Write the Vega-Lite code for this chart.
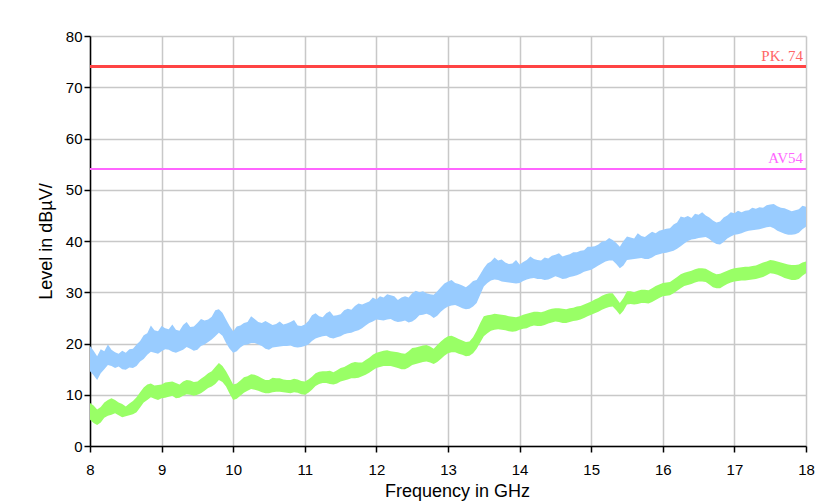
{
  "$schema": "https://vega.github.io/schema/vega-lite/v6.json",
  "width": 716,
  "height": 410,
  "autosize": {"type": "none"},
  "padding": {"left": 90, "top": 36, "right": 18, "bottom": 57},
  "background": "white",
  "config": {
    "view": {"stroke": null},
    "font": "Liberation Sans",
    "axis": {
      "gridColor": "#c8c8c8",
      "gridWidth": 1.5,
      "gridOpacity": 1,
      "domainColor": "#000000",
      "domainWidth": 1.5,
      "tickColor": "#000000",
      "tickWidth": 1.5,
      "tickSize": 6,
      "labelColor": "#000000",
      "labelFont": "Liberation Sans",
      "labelFontSize": 15,
      "titleFont": "Liberation Sans",
      "titleFontSize": 18,
      "titleFontWeight": "normal",
      "titleColor": "#000000"
    }
  },
  "data": {
    "values": [
      {"f": 8.0, "pl": 14.6, "ph": 19.5, "al": 5.1, "ah": 8.4},
      {"f": 8.1, "pl": 12.9, "ph": 17.5, "al": 4.1, "ah": 7.1},
      {"f": 8.2, "pl": 15.0, "ph": 18.5, "al": 5.5, "ah": 8.5},
      {"f": 8.3, "pl": 15.6, "ph": 18.8, "al": 6.1, "ah": 9.3},
      {"f": 8.4, "pl": 15.5, "ph": 18.0, "al": 6.0, "ah": 8.5},
      {"f": 8.5, "pl": 14.9, "ph": 18.2, "al": 5.8, "ah": 7.7},
      {"f": 8.6, "pl": 15.2, "ph": 19.0, "al": 6.2, "ah": 8.8},
      {"f": 8.7, "pl": 16.5, "ph": 20.5, "al": 7.5, "ah": 10.5},
      {"f": 8.8, "pl": 17.8, "ph": 22.0, "al": 9.0, "ah": 12.0},
      {"f": 8.9, "pl": 18.2, "ph": 22.6, "al": 9.2, "ah": 11.8},
      {"f": 9.0, "pl": 18.5, "ph": 23.4, "al": 9.3, "ah": 12.0},
      {"f": 9.1, "pl": 18.8, "ph": 22.8, "al": 9.6, "ah": 12.5},
      {"f": 9.2, "pl": 18.2, "ph": 22.7, "al": 9.3, "ah": 12.3},
      {"f": 9.3, "pl": 18.8, "ph": 23.6, "al": 9.8, "ah": 12.6},
      {"f": 9.4, "pl": 19.0, "ph": 23.2, "al": 10.0, "ah": 12.8},
      {"f": 9.5, "pl": 18.8, "ph": 24.0, "al": 10.0, "ah": 12.6},
      {"f": 9.6, "pl": 19.8, "ph": 24.5, "al": 10.8, "ah": 13.6},
      {"f": 9.7, "pl": 20.8, "ph": 25.2, "al": 11.6, "ah": 14.6},
      {"f": 9.8, "pl": 22.1, "ph": 26.7, "al": 12.9, "ah": 16.2},
      {"f": 9.9, "pl": 20.1, "ph": 24.7, "al": 11.6, "ah": 14.6},
      {"f": 10.0, "pl": 18.2, "ph": 22.4, "al": 9.0, "ah": 12.0},
      {"f": 10.1, "pl": 19.2, "ph": 23.5, "al": 9.8, "ah": 12.8},
      {"f": 10.2, "pl": 19.8, "ph": 24.2, "al": 10.8, "ah": 13.6},
      {"f": 10.3, "pl": 20.1, "ph": 24.8, "al": 11.0, "ah": 13.9},
      {"f": 10.4, "pl": 19.5, "ph": 24.0, "al": 10.5, "ah": 13.2},
      {"f": 10.5, "pl": 18.8, "ph": 24.0, "al": 10.3, "ah": 12.9},
      {"f": 10.6, "pl": 19.3, "ph": 23.8, "al": 10.6, "ah": 13.2},
      {"f": 10.7, "pl": 19.5, "ph": 23.7, "al": 10.5, "ah": 13.0},
      {"f": 10.8, "pl": 19.6, "ph": 24.2, "al": 10.3, "ah": 12.9},
      {"f": 10.9, "pl": 19.2, "ph": 23.5, "al": 10.4, "ah": 13.0},
      {"f": 11.0, "pl": 19.5, "ph": 23.7, "al": 10.0, "ah": 12.6},
      {"f": 11.1, "pl": 20.5, "ph": 25.5, "al": 11.0, "ah": 13.5},
      {"f": 11.2, "pl": 21.2, "ph": 25.3, "al": 12.1, "ah": 14.5},
      {"f": 11.3, "pl": 21.5, "ph": 25.9, "al": 12.3, "ah": 14.6},
      {"f": 11.4, "pl": 21.0, "ph": 25.4, "al": 12.0, "ah": 14.4},
      {"f": 11.5, "pl": 21.4, "ph": 25.7, "al": 12.6, "ah": 15.2},
      {"f": 11.6, "pl": 22.0, "ph": 26.8, "al": 13.0, "ah": 15.8},
      {"f": 11.7, "pl": 22.4, "ph": 27.3, "al": 13.2, "ah": 16.4},
      {"f": 11.8, "pl": 23.0, "ph": 27.6, "al": 13.6, "ah": 16.3},
      {"f": 11.9, "pl": 24.0, "ph": 28.2, "al": 14.3, "ah": 17.2},
      {"f": 12.0, "pl": 24.7, "ph": 28.6, "al": 15.2, "ah": 18.2},
      {"f": 12.1, "pl": 24.5, "ph": 29.0, "al": 15.6, "ah": 18.6},
      {"f": 12.2, "pl": 24.8, "ph": 29.4, "al": 15.6, "ah": 18.5},
      {"f": 12.3, "pl": 24.2, "ph": 28.5, "al": 15.2, "ah": 18.3},
      {"f": 12.4, "pl": 24.5, "ph": 29.2, "al": 15.0, "ah": 18.0},
      {"f": 12.5, "pl": 24.3, "ph": 29.8, "al": 15.8, "ah": 19.1},
      {"f": 12.6, "pl": 25.5, "ph": 30.0, "al": 16.2, "ah": 19.4},
      {"f": 12.7, "pl": 25.8, "ph": 29.8, "al": 16.5, "ah": 19.7},
      {"f": 12.8, "pl": 25.0, "ph": 29.5, "al": 16.0, "ah": 19.0},
      {"f": 12.9, "pl": 26.2, "ph": 31.0, "al": 17.0, "ah": 20.4},
      {"f": 13.0, "pl": 27.2, "ph": 32.1, "al": 18.1, "ah": 21.4},
      {"f": 13.1, "pl": 27.5, "ph": 31.8, "al": 18.3, "ah": 21.2},
      {"f": 13.2, "pl": 26.9, "ph": 31.3, "al": 17.8, "ah": 20.6},
      {"f": 13.3, "pl": 26.8, "ph": 31.5, "al": 17.6, "ah": 20.4},
      {"f": 13.4, "pl": 27.9, "ph": 32.4, "al": 19.0, "ah": 22.5},
      {"f": 13.5, "pl": 31.1, "ph": 34.7, "al": 21.4, "ah": 25.3},
      {"f": 13.6, "pl": 32.3, "ph": 36.0, "al": 22.5, "ah": 25.6},
      {"f": 13.7, "pl": 32.4, "ph": 36.2, "al": 22.8, "ah": 25.7},
      {"f": 13.8, "pl": 32.0, "ph": 35.8, "al": 22.6, "ah": 25.5},
      {"f": 13.9, "pl": 31.8, "ph": 35.6, "al": 22.3, "ah": 25.2},
      {"f": 14.0, "pl": 31.8, "ph": 35.4, "al": 22.7, "ah": 25.3},
      {"f": 14.1, "pl": 32.5, "ph": 36.3, "al": 23.0, "ah": 25.8},
      {"f": 14.2, "pl": 32.8, "ph": 36.5, "al": 23.5, "ah": 26.2},
      {"f": 14.3, "pl": 32.6, "ph": 36.2, "al": 23.4, "ah": 26.1},
      {"f": 14.4, "pl": 32.5, "ph": 36.6, "al": 23.9, "ah": 26.6},
      {"f": 14.5, "pl": 33.1, "ph": 37.3, "al": 24.3, "ah": 26.9},
      {"f": 14.6, "pl": 32.6, "ph": 37.0, "al": 24.0, "ah": 26.8},
      {"f": 14.7, "pl": 33.0, "ph": 37.4, "al": 24.2, "ah": 26.9},
      {"f": 14.8, "pl": 33.3, "ph": 37.8, "al": 24.5, "ah": 27.2},
      {"f": 14.9, "pl": 34.0, "ph": 38.2, "al": 25.0, "ah": 27.6},
      {"f": 15.0, "pl": 34.4, "ph": 38.9, "al": 25.6, "ah": 28.2},
      {"f": 15.1, "pl": 35.2, "ph": 39.3, "al": 26.2, "ah": 28.9},
      {"f": 15.2, "pl": 36.0, "ph": 40.0, "al": 26.9, "ah": 29.6},
      {"f": 15.3, "pl": 36.2, "ph": 40.2, "al": 27.2, "ah": 29.8},
      {"f": 15.4, "pl": 34.7, "ph": 38.9, "al": 25.6, "ah": 27.9},
      {"f": 15.5, "pl": 36.3, "ph": 40.9, "al": 27.6, "ah": 30.2},
      {"f": 15.6, "pl": 36.5, "ph": 40.5, "al": 27.6, "ah": 30.0},
      {"f": 15.7, "pl": 36.7, "ph": 41.0, "al": 27.9, "ah": 30.5},
      {"f": 15.8, "pl": 36.5, "ph": 41.3, "al": 27.8, "ah": 30.4},
      {"f": 15.9, "pl": 37.2, "ph": 41.5, "al": 28.5, "ah": 31.2},
      {"f": 16.0, "pl": 37.6, "ph": 42.2, "al": 29.2, "ah": 31.8},
      {"f": 16.1, "pl": 37.9, "ph": 42.5, "al": 29.4, "ah": 32.0},
      {"f": 16.2, "pl": 38.5, "ph": 43.6, "al": 30.3, "ah": 33.0},
      {"f": 16.3, "pl": 39.5, "ph": 44.6, "al": 31.2, "ah": 33.8},
      {"f": 16.4, "pl": 40.3, "ph": 44.5, "al": 31.6, "ah": 34.2},
      {"f": 16.5, "pl": 40.6, "ph": 45.1, "al": 32.1, "ah": 34.7},
      {"f": 16.6, "pl": 40.8, "ph": 45.0, "al": 32.0, "ah": 34.6},
      {"f": 16.7, "pl": 39.8, "ph": 44.0, "al": 31.0, "ah": 33.8},
      {"f": 16.8, "pl": 39.3, "ph": 43.8, "al": 30.8, "ah": 33.6},
      {"f": 16.9, "pl": 40.5, "ph": 45.0, "al": 31.6, "ah": 34.2},
      {"f": 17.0, "pl": 41.2, "ph": 45.4, "al": 32.1, "ah": 34.7},
      {"f": 17.1, "pl": 41.5, "ph": 45.6, "al": 32.3, "ah": 34.9},
      {"f": 17.2, "pl": 42.0, "ph": 46.0, "al": 32.4, "ah": 35.0},
      {"f": 17.3, "pl": 42.2, "ph": 46.3, "al": 32.6, "ah": 35.2},
      {"f": 17.4, "pl": 42.5, "ph": 46.5, "al": 33.0, "ah": 35.8},
      {"f": 17.5, "pl": 42.8, "ph": 47.1, "al": 33.7, "ah": 36.3},
      {"f": 17.6, "pl": 42.0, "ph": 46.8, "al": 33.4, "ah": 36.0},
      {"f": 17.7, "pl": 41.4, "ph": 46.4, "al": 32.8, "ah": 35.6},
      {"f": 17.8, "pl": 41.2, "ph": 45.8, "al": 32.4, "ah": 35.3},
      {"f": 17.9, "pl": 41.6, "ph": 46.2, "al": 32.6, "ah": 35.4},
      {"f": 18.0, "pl": 42.8, "ph": 46.7, "al": 33.7, "ah": 36.0},
      {"f": 8.05, "pl": 13.8, "ph": 18.6, "al": 4.5, "ah": 7.9},
      {"f": 8.15, "pl": 14.2, "ph": 18.9, "al": 4.6, "ah": 7.6},
      {"f": 8.25, "pl": 15.8, "ph": 19.8, "al": 5.9, "ah": 9.0},
      {"f": 8.35, "pl": 15.2, "ph": 18.3, "al": 6.4, "ah": 9.0},
      {"f": 8.45, "pl": 15.0, "ph": 18.6, "al": 5.6, "ah": 8.2},
      {"f": 8.55, "pl": 15.3, "ph": 18.9, "al": 6.0, "ah": 8.3},
      {"f": 8.65, "pl": 15.6, "ph": 19.8, "al": 6.6, "ah": 9.5},
      {"f": 8.75, "pl": 17.0, "ph": 21.6, "al": 8.5, "ah": 11.4},
      {"f": 8.85, "pl": 18.4, "ph": 23.5, "al": 9.5, "ah": 12.2},
      {"f": 8.95, "pl": 18.0, "ph": 22.4, "al": 9.0, "ah": 11.9},
      {"f": 9.05, "pl": 18.9, "ph": 23.0, "al": 9.4, "ah": 12.4},
      {"f": 9.15, "pl": 18.4, "ph": 23.7, "al": 9.8, "ah": 12.6},
      {"f": 9.25, "pl": 18.5, "ph": 22.5, "al": 9.4, "ah": 12.0},
      {"f": 9.35, "pl": 19.3, "ph": 24.2, "al": 10.1, "ah": 12.9},
      {"f": 9.45, "pl": 18.6, "ph": 23.3, "al": 9.8, "ah": 12.5},
      {"f": 9.55, "pl": 19.5, "ph": 24.8, "al": 10.3, "ah": 13.1},
      {"f": 9.65, "pl": 20.3, "ph": 24.7, "al": 11.3, "ah": 14.2},
      {"f": 9.75, "pl": 21.4, "ph": 26.5, "al": 12.1, "ah": 15.4},
      {"f": 9.85, "pl": 21.5, "ph": 26.0, "al": 12.5, "ah": 15.6},
      {"f": 9.95, "pl": 19.0, "ph": 23.4, "al": 10.2, "ah": 13.3},
      {"f": 10.05, "pl": 18.5, "ph": 23.3, "al": 9.2, "ah": 12.2},
      {"f": 10.15, "pl": 19.7, "ph": 24.0, "al": 10.4, "ah": 13.4},
      {"f": 10.25, "pl": 20.1, "ph": 25.3, "al": 11.1, "ah": 14.0},
      {"f": 10.35, "pl": 19.8, "ph": 24.2, "al": 10.8, "ah": 13.6},
      {"f": 10.45, "pl": 19.0, "ph": 24.4, "al": 10.3, "ah": 12.9},
      {"f": 10.55, "pl": 19.2, "ph": 23.6, "al": 10.5, "ah": 13.3},
      {"f": 10.65, "pl": 19.4, "ph": 24.3, "al": 10.6, "ah": 13.2},
      {"f": 10.75, "pl": 19.5, "ph": 23.9, "al": 10.4, "ah": 12.9},
      {"f": 10.85, "pl": 19.3, "ph": 24.6, "al": 10.5, "ah": 13.1},
      {"f": 10.95, "pl": 19.3, "ph": 23.4, "al": 10.1, "ah": 12.7},
      {"f": 11.05, "pl": 19.8, "ph": 24.4, "al": 10.4, "ah": 13.0},
      {"f": 11.15, "pl": 21.0, "ph": 25.9, "al": 11.7, "ah": 14.2},
      {"f": 11.25, "pl": 21.4, "ph": 25.1, "al": 12.3, "ah": 14.6},
      {"f": 11.35, "pl": 21.1, "ph": 26.3, "al": 12.1, "ah": 14.7},
      {"f": 11.45, "pl": 21.2, "ph": 25.5, "al": 12.2, "ah": 14.8},
      {"f": 11.55, "pl": 21.8, "ph": 26.5, "al": 12.8, "ah": 15.4},
      {"f": 11.65, "pl": 22.1, "ph": 26.6, "al": 13.2, "ah": 16.2},
      {"f": 11.75, "pl": 22.6, "ph": 27.8, "al": 13.3, "ah": 16.3},
      {"f": 11.85, "pl": 23.5, "ph": 27.9, "al": 13.9, "ah": 16.8},
      {"f": 11.95, "pl": 24.3, "ph": 29.0, "al": 14.8, "ah": 17.8},
      {"f": 12.05, "pl": 24.6, "ph": 29.2, "al": 15.4, "ah": 18.4},
      {"f": 12.15, "pl": 24.7, "ph": 29.6, "al": 15.6, "ah": 18.7},
      {"f": 12.25, "pl": 24.4, "ph": 29.2, "al": 15.4, "ah": 18.4},
      {"f": 12.35, "pl": 24.3, "ph": 29.0, "al": 15.0, "ah": 18.1},
      {"f": 12.45, "pl": 24.1, "ph": 29.0, "al": 15.3, "ah": 18.5},
      {"f": 12.55, "pl": 24.8, "ph": 30.3, "al": 16.0, "ah": 19.2},
      {"f": 12.65, "pl": 25.6, "ph": 30.2, "al": 16.4, "ah": 19.6},
      {"f": 12.75, "pl": 25.5, "ph": 29.6, "al": 16.3, "ah": 19.4},
      {"f": 12.85, "pl": 25.4, "ph": 30.2, "al": 16.4, "ah": 19.7},
      {"f": 12.95, "pl": 26.8, "ph": 31.7, "al": 17.6, "ah": 21.0},
      {"f": 13.05, "pl": 27.4, "ph": 32.4, "al": 18.3, "ah": 21.5},
      {"f": 13.15, "pl": 27.2, "ph": 31.6, "al": 18.0, "ah": 20.9},
      {"f": 13.25, "pl": 26.7, "ph": 31.0, "al": 17.5, "ah": 20.3},
      {"f": 13.35, "pl": 27.2, "ph": 32.2, "al": 18.1, "ah": 21.2},
      {"f": 13.45, "pl": 29.5, "ph": 33.5, "al": 20.2, "ah": 24.0},
      {"f": 13.55, "pl": 31.8, "ph": 35.6, "al": 22.0, "ah": 25.5},
      {"f": 13.65, "pl": 32.5, "ph": 36.8, "al": 22.7, "ah": 25.8},
      {"f": 13.75, "pl": 32.1, "ph": 36.4, "al": 22.7, "ah": 25.6},
      {"f": 13.85, "pl": 31.9, "ph": 35.5, "al": 22.4, "ah": 25.3},
      {"f": 13.95, "pl": 31.7, "ph": 36.3, "al": 22.4, "ah": 25.1},
      {"f": 14.05, "pl": 32.2, "ph": 35.9, "al": 22.9, "ah": 25.6},
      {"f": 14.15, "pl": 32.7, "ph": 37.0, "al": 23.3, "ah": 26.0},
      {"f": 14.25, "pl": 32.6, "ph": 36.3, "al": 23.4, "ah": 26.2},
      {"f": 14.35, "pl": 32.4, "ph": 36.8, "al": 23.6, "ah": 26.3},
      {"f": 14.45, "pl": 32.8, "ph": 37.1, "al": 24.1, "ah": 26.8},
      {"f": 14.55, "pl": 32.9, "ph": 37.6, "al": 24.2, "ah": 26.9},
      {"f": 14.65, "pl": 32.7, "ph": 37.2, "al": 24.0, "ah": 26.7},
      {"f": 14.75, "pl": 33.1, "ph": 37.8, "al": 24.4, "ah": 27.0},
      {"f": 14.85, "pl": 33.6, "ph": 38.1, "al": 24.7, "ah": 27.3},
      {"f": 14.95, "pl": 34.2, "ph": 38.9, "al": 25.3, "ah": 27.9},
      {"f": 15.05, "pl": 34.8, "ph": 39.0, "al": 25.9, "ah": 28.6},
      {"f": 15.15, "pl": 35.6, "ph": 39.9, "al": 26.6, "ah": 29.3},
      {"f": 15.25, "pl": 36.2, "ph": 40.6, "al": 27.1, "ah": 29.8},
      {"f": 15.35, "pl": 35.5, "ph": 39.6, "al": 26.5, "ah": 28.9},
      {"f": 15.45, "pl": 35.2, "ph": 40.0, "al": 26.4, "ah": 28.9},
      {"f": 15.55, "pl": 36.4, "ph": 40.7, "al": 27.7, "ah": 30.2},
      {"f": 15.65, "pl": 36.6, "ph": 41.5, "al": 27.7, "ah": 30.3},
      {"f": 15.75, "pl": 36.5, "ph": 40.8, "al": 27.9, "ah": 30.5},
      {"f": 15.85, "pl": 36.8, "ph": 41.8, "al": 28.1, "ah": 30.8},
      {"f": 15.95, "pl": 37.4, "ph": 42.0, "al": 28.9, "ah": 31.5},
      {"f": 16.05, "pl": 37.7, "ph": 42.4, "al": 29.3, "ah": 31.9},
      {"f": 16.15, "pl": 38.1, "ph": 43.2, "al": 29.8, "ah": 32.5},
      {"f": 16.25, "pl": 39.0, "ph": 44.8, "al": 30.8, "ah": 33.5},
      {"f": 16.35, "pl": 40.0, "ph": 44.9, "al": 31.4, "ah": 34.0},
      {"f": 16.45, "pl": 40.4, "ph": 45.3, "al": 31.9, "ah": 34.5},
      {"f": 16.55, "pl": 40.7, "ph": 45.6, "al": 32.1, "ah": 34.7},
      {"f": 16.65, "pl": 40.4, "ph": 44.6, "al": 31.5, "ah": 34.2},
      {"f": 16.75, "pl": 39.4, "ph": 43.6, "al": 30.8, "ah": 33.5},
      {"f": 16.85, "pl": 39.8, "ph": 44.6, "al": 31.2, "ah": 33.9},
      {"f": 16.95, "pl": 40.9, "ph": 45.6, "al": 31.9, "ah": 34.5},
      {"f": 17.05, "pl": 41.3, "ph": 45.9, "al": 32.2, "ah": 34.8},
      {"f": 17.15, "pl": 41.8, "ph": 45.9, "al": 32.3, "ah": 35.0},
      {"f": 17.25, "pl": 42.1, "ph": 46.5, "al": 32.5, "ah": 35.1},
      {"f": 17.35, "pl": 42.3, "ph": 46.6, "al": 32.8, "ah": 35.5},
      {"f": 17.45, "pl": 42.7, "ph": 47.0, "al": 33.3, "ah": 36.0},
      {"f": 17.55, "pl": 42.5, "ph": 47.2, "al": 33.6, "ah": 36.2},
      {"f": 17.65, "pl": 41.7, "ph": 46.5, "al": 33.1, "ah": 35.8},
      {"f": 17.75, "pl": 41.2, "ph": 46.1, "al": 32.6, "ah": 35.4},
      {"f": 17.85, "pl": 41.3, "ph": 46.0, "al": 32.4, "ah": 35.3},
      {"f": 17.95, "pl": 42.3, "ph": 46.9, "al": 33.2, "ah": 35.8}
    ]
  },
  "layer": [
    {
      "mark": {"type": "area", "color": "#99ccff", "opacity": 1},
      "encoding": {
        "x": {
          "field": "f", "type": "quantitative",
          "scale": {"domain": [8, 18], "nice": false, "zero": false},
          "axis": {
            "title": "Frequency in GHz",
            "values": [8, 8.5, 9, 9.5, 10, 10.5, 11, 11.5, 12, 12.5, 13, 13.5, 14, 14.5, 15, 15.5, 16, 16.5, 17, 17.5, 18],
            "format": "~g",
            "labelExpr": "datum.value % 1 === 0 ? datum.label : ''",
            "labelPadding": 10,
            "titlePadding": 5,
            "titleX": 367,
            "labelFlush": false,
            "labelOverlap": false
          }
        },
        "y": {
          "field": "pl", "type": "quantitative",
          "scale": {"domain": [0, 80], "nice": false},
          "axis": {
            "title": "Level in dBµV/",
            "values": [0, 5, 10, 15, 20, 25, 30, 35, 40, 45, 50, 55, 60, 65, 70, 75, 80],
            "labelExpr": "datum.value % 10 === 0 ? datum.label : ''",
            "labelPadding": 2,
            "titlePadding": 10,
            "labelFlush": false,
            "labelOverlap": false
          }
        },
        "y2": {"field": "ph"}
      }
    },
    {
      "mark": {"type": "area", "color": "#99ff66", "opacity": 1},
      "encoding": {
        "x": {"field": "f", "type": "quantitative"},
        "y": {"field": "al", "type": "quantitative"},
        "y2": {"field": "ah"}
      }
    },
    {
      "mark": {"type": "rule", "color": "#ff4444", "strokeWidth": 2.5},
      "encoding": {"y": {"datum": 74}}
    },
    {
      "mark": {"type": "rule", "color": "#ff66ff", "strokeWidth": 1.5},
      "encoding": {"y": {"datum": 54}}
    },
    {
      "data": {"values": [
        {"f": 18, "lv": 74, "label": "PK. 74", "kind": "pk"},
        {"f": 18, "lv": 54, "label": "AV54", "kind": "av"}
      ]},
      "mark": {"type": "text", "align": "right", "baseline": "bottom", "dy": -3, "dx": -3, "font": "Liberation Serif", "fontSize": 15},
      "encoding": {
        "x": {"field": "f", "type": "quantitative"},
        "y": {"field": "lv", "type": "quantitative"},
        "text": {"field": "label"},
        "color": {"field": "kind", "type": "nominal", "scale": {"domain": ["pk", "av"], "range": ["#ff6666", "#ff66ff"]}, "legend": null}
      }
    }
  ]
}
